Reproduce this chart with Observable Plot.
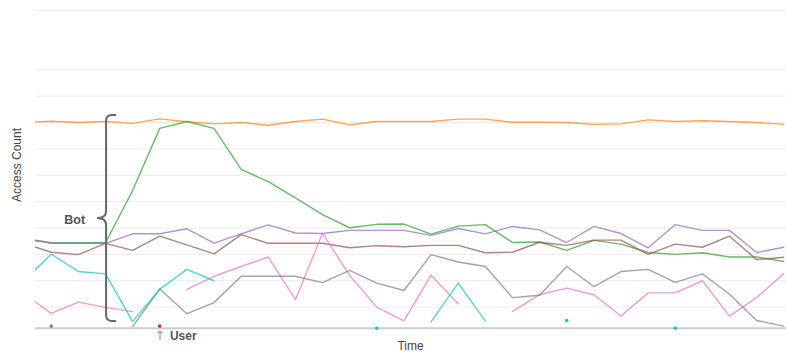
<!DOCTYPE html>
<html>
<head>
<meta charset="utf-8">
<script src="https://cdn.jsdelivr.net/npm/d3@7"></script>
<script src="https://cdn.jsdelivr.net/npm/@observablehq/plot@0.6"></script>
<style>
  body { margin: 0; background: #fff; }
  svg { display: block; }
</style>
</head>
<body>
<div id="chart"></div>
<script>
// ---- data (time index; value in "Access Count" units) ----
const times = [-1,0,1,2,3,4,5,6,7,8,9,10,11,12,13,14,15,16,17,18,19,20,21,22,23,24,25,26,27];

const orangeSeries = [80.0,80.5,80.0,80.4,79.7,81.4,80.3,79.5,80.0,79.0,80.4,81.3,79.1,80.4,80.4,80.4,81.3,81.3,80.1,80.1,80.0,79.3,79.5,81.0,80.4,80.7,80.4,80.0,79.3];
const greenSeries  = [36.0,34.4,34.4,34.4,54.2,77.8,80.4,77.8,62.2,57.6,51.4,45.1,40.1,41.4,41.5,37.7,40.7,41.3,34.5,34.7,31.5,35.3,33.9,30.7,30.0,30.6,29.0,29.0,27.3];
const redSeries    = [null,null,null,null,null,2.8,null,null,null,null,null,null,null,null,null,null,null,null,null,null,null,null,null,null,null,null,null,null,null];
const purpleSeries = [36.0,34.2,34.2,34.2,37.8,37.8,39.7,34.3,37.8,41.2,38.1,37.9,39.1,39.1,39.1,37.2,39.8,37.8,40.6,39.3,34.5,40.6,37.9,32.5,41.3,39.1,39.1,30.7,32.7];
const brownSeries  = [34.1,30.8,29.9,34.2,31.5,36.9,33.6,30.2,37.5,34.2,34.2,34.2,32.5,33.3,32.9,33.4,33.4,30.6,30.8,34.6,33.4,35.4,35.4,30.0,33.9,32.7,36.9,28.0,28.9];
const pinkSeries   = [15.0,7.6,11.9,9.9,8.3,null,16.7,21.7,25.4,29.0,12.8,38.0,22.0,10.0,4.8,22.1,11.3,null,8.4,14.7,17.2,14.7,6.6,15.4,15.4,20.0,6.6,13.6,22.7];
const graySeries   = [null,2.8,null,null,2.6,16.9,7.5,11.7,21.7,21.7,21.7,19.3,23.9,19.1,16.3,29.9,27.1,25.4,13.6,14.5,25.4,17.8,23.5,24.3,19.4,22.6,14.9,4.9,2.8];
const cyanSeries   = [20.0,30.1,23.5,22.6,4.5,16.8,24.3,20.0,null,null,null,null,null,2.0,null,4.4,19.1,4.8,null,null,4.9,null,null,null,2.0,null,null,null,null];

const seriesNames  = ["s1","s2","s3","s4","s5","s6","s7","s8"];
const seriesValues = [orangeSeries, greenSeries, redSeries, purpleSeries, brownSeries, pinkSeries, graySeries, cyanSeries];
const seriesColors = ["#ff7f0e","#2ca02c","#d62728","#9467bd","#8c564b","#e377c2","#7f7f7f","#17becf"];

const yDomain   = [2, 122.5];
const xDomain   = [-0.58, 27.1];
const gridTicks = [10,20,30,40,50,60,70,80,90,100,122.5];

// annotations (data coordinates)
const braceX = 2.04, braceTop = 82.7, braceMid = 43.6, braceBottom = 4.5;
const userX = 4, userY = 2;

// ---- long table ----
const rows = [];
seriesValues.forEach((vals, i) => {
  vals.forEach((v, j) => rows.push({t: times[j], v, s: seriesNames[i]}));
});
const isolated = [];
seriesValues.forEach((vals, i) => {
  vals.forEach((v, j) => {
    const prev = j > 0 ? vals[j - 1] : null;
    const next = j < vals.length - 1 ? vals[j + 1] : null;
    if (v != null && prev == null && next == null) isolated.push({t: times[j], v, s: seriesNames[i]});
  });
});

const plot = Plot.plot({
  width: 786,
  height: 361,
  marginLeft: 35,
  marginRight: 0,
  marginTop: 10,
  marginBottom: 33.3,
  style: {fontFamily: "'Liberation Sans', Arial, sans-serif", background: "#fff"},
  x: {domain: xDomain, axis: null},
  y: {domain: yDomain, axis: null},
  color: {domain: seriesNames, range: seriesColors},
  marks: [
    Plot.ruleY(gridTicks, {stroke: "#ebebeb", strokeWidth: 1}),
    Plot.ruleY([yDomain[0]], {stroke: "#cccccc", strokeWidth: 2}),
    Plot.line(rows, {x: "t", y: "v", z: "s", stroke: "s", strokeWidth: 1.4, strokeOpacity: 0.72, clip: true}),
    Plot.dot(isolated, {x: "t", y: "v", fill: "s", r: 1.8})
  ]
});

document.getElementById("chart").appendChild(plot);

const svg = d3.select(plot);
const xs = plot.scale("x"), ys = plot.scale("y");
const font = "'Liberation Sans', Arial, sans-serif";

// brace
const bx = xs.apply(braceX), bt = ys.apply(braceTop), bm = ys.apply(braceMid), bb = ys.apply(braceBottom);
const bp = d3.path();
bp.moveTo(bx + 10, bt);
bp.lineTo(bx + 6, bt);
bp.quadraticCurveTo(bx, bt, bx, bt + 6);
bp.lineTo(bx, bm - 7);
bp.quadraticCurveTo(bx, bm, bx - 9, bm);
bp.quadraticCurveTo(bx, bm, bx, bm + 7);
bp.lineTo(bx, bb - 6);
bp.quadraticCurveTo(bx, bb, bx + 6, bb);
bp.lineTo(bx + 10, bb);
svg.append("path").attr("d", bp.toString()).attr("fill", "none")
  .attr("stroke", "#666").attr("stroke-width", 2);

svg.append("text").attr("x", bx - 21).attr("y", bm + 5.5)
  .attr("text-anchor", "end").attr("font-family", font).attr("font-size", 12.5)
  .attr("font-weight", "bold").attr("fill", "#555").text("Bot");

// user annotation
const ux = xs.apply(userX), uy = ys.apply(userY);
svg.append("text").attr("x", ux + 0.7).attr("y", uy + 12.6)
  .attr("text-anchor", "middle").attr("font-family", "'DejaVu Sans', sans-serif").attr("font-size", 13)
  .attr("fill", "#a0a0a0").text("↑");
svg.append("text").attr("x", ux + 10.7).attr("y", uy + 12.3)
  .attr("text-anchor", "start").attr("font-family", font).attr("font-size", 12)
  .attr("font-weight", "bold").attr("fill", "#555").text("User");

// axis labels
svg.append("text").attr("transform", "translate(21,165) rotate(-90)")
  .attr("text-anchor", "middle").attr("font-family", font).attr("font-size", 12)
  .attr("fill", "#444").text("Access Count");
svg.append("text").attr("x", (35 + 786) / 2).attr("y", 349.5)
  .attr("text-anchor", "middle").attr("font-family", font).attr("font-size", 12)
  .attr("fill", "#444").text("Time");
</script>
</body>
</html>
